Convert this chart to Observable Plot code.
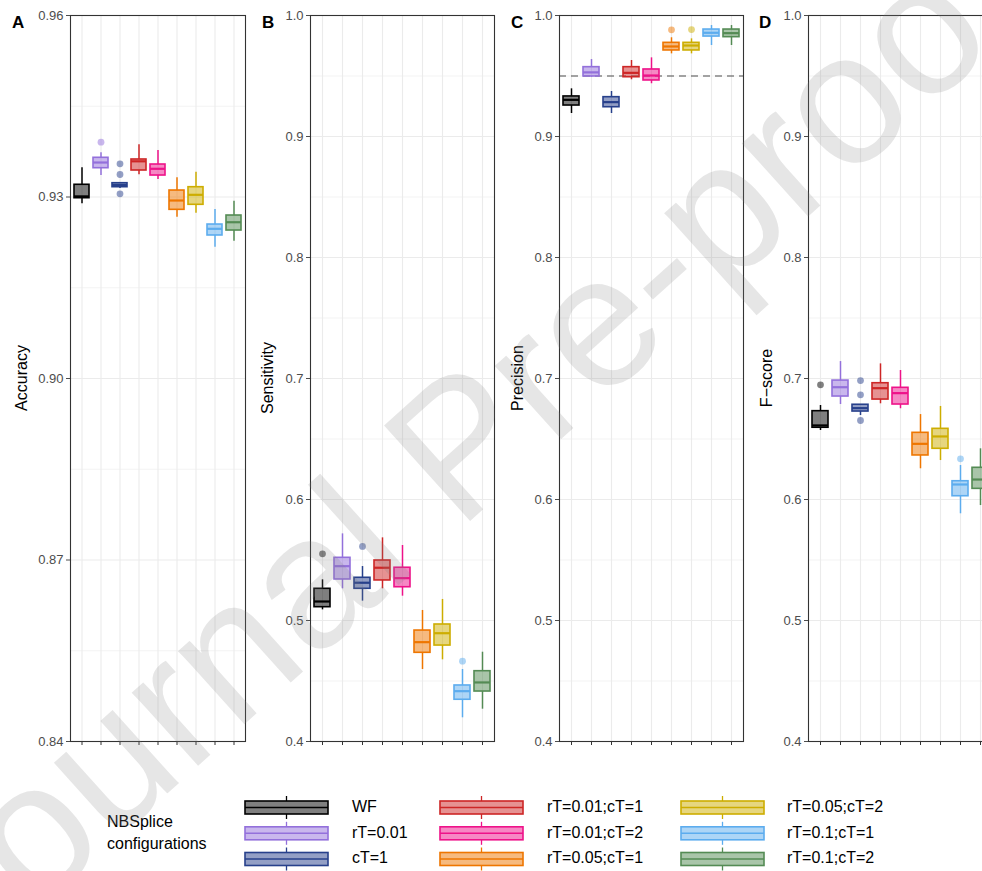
<!DOCTYPE html>
<html><head><meta charset="utf-8">
<script src="https://cdn.jsdelivr.net/npm/d3@7"></script>
<script src="https://cdn.jsdelivr.net/npm/@observablehq/plot@0.6"></script>
<style>
body{margin:0;background:#fff;overflow:hidden;}
#root{position:relative;width:982px;height:871px;overflow:hidden;font-family:"Liberation Sans",Arial,Helvetica,sans-serif;background:#fff;}
.panel{position:absolute;top:0;}
.ytitle{position:absolute;font-size:16px;color:#000;white-space:nowrap;transform:translate(-50%,-50%) rotate(-90deg);}
.letter{position:absolute;font-size:17px;font-weight:bold;color:#000;}
svg text{font-family:"Liberation Sans",Arial,Helvetica,sans-serif;}
</style></head><body><div id="root"></div>
<script>
// ---- categories & colours ----
const configs = ["WF","rT=0.01","cT=1","rT=0.01;cT=1","rT=0.01;cT=2","rT=0.05;cT=1","rT=0.05;cT=2","rT=0.1;cT=1","rT=0.1;cT=2"];
const colors  = ["#000000","#9370DB","#27408B","#CD2626","#EE1289","#EE7600","#CDAD00","#5CACEE","#548B54"];

// ---- Accuracy (panel A) ----
const accLo  = [0.92888,0.93355,0.93140,0.93367,0.93290,0.92666,0.92732,0.92171,0.92269];
const accQ1  = [0.92980,0.93476,0.93162,0.93438,0.93355,0.92788,0.92871,0.92364,0.92446];
const accMed = [0.93010,0.93570,0.93200,0.93590,0.93466,0.92942,0.93036,0.92474,0.92583];
const accQ3  = [0.93202,0.93648,0.93228,0.93620,0.93537,0.93107,0.93162,0.92545,0.92694];
const accHi  = [0.93483,0.93731,0.93240,0.93863,0.93769,0.93317,0.93410,0.92793,0.92931];
const accOut = [["rT=0.01",0.93906],["cT=1",0.93549],["cT=1",0.93372],["cT=1",0.93053]];
const accTicks = [0.84,0.87,0.90,0.93,0.96];
const accMinor = [0.855,0.885,0.915,0.945];

// ---- Sensitivity (panel B) ----
const senLo  = [0.5088,0.5262,0.5160,0.5262,0.5201,0.4595,0.4675,0.4196,0.4267];
const senQ1  = [0.5110,0.5339,0.5262,0.5331,0.5275,0.4733,0.4793,0.4345,0.4413];
const senMed = [0.5157,0.5449,0.5312,0.5436,0.5350,0.4821,0.4895,0.4416,0.4488];
const senQ3  = [0.5262,0.5518,0.5353,0.5496,0.5436,0.4917,0.4967,0.4463,0.4581];
const senHi  = [0.5336,0.5716,0.5446,0.5683,0.5620,0.5083,0.5174,0.4595,0.4738];
const senOut = [["WF",0.5551],["cT=1",0.5612],["rT=0.1;cT=1",0.4664]];

// ---- Precision (panel C) ----
const preLo  = [0.9190,0.9490,0.9190,0.9469,0.9436,0.9683,0.9683,0.9752,0.9752];
const preQ1  = [0.9256,0.9496,0.9242,0.9490,0.9463,0.9711,0.9711,0.9826,0.9821];
const preMed = [0.9303,0.9530,0.9284,0.9526,0.9504,0.9744,0.9752,0.9857,0.9854];
const preQ3  = [0.9331,0.9573,0.9325,0.9573,0.9554,0.9774,0.9774,0.9884,0.9884];
const preHi  = [0.9394,0.9636,0.9372,0.9628,0.9650,0.9816,0.9807,0.9917,0.9917];
const preOut = [["rT=0.05;cT=1",0.9882],["rT=0.05;cT=2",0.9884]];
const preRef = [0.95];

// ---- F-score (panel D) ----
const fscLo  = [0.6570,0.6785,0.6694,0.6791,0.6750,0.6254,0.6322,0.5882,0.5950];
const fscQ1  = [0.6593,0.6851,0.6727,0.6826,0.6785,0.6364,0.6419,0.6027,0.6088];
const fscMed = [0.6612,0.6928,0.6755,0.6920,0.6879,0.6460,0.6521,0.6124,0.6165];
const fscQ3  = [0.6730,0.6983,0.6783,0.6961,0.6923,0.6551,0.6584,0.6151,0.6262];
const fscHi  = [0.6777,0.7140,0.6783,0.7121,0.7066,0.6702,0.6769,0.6281,0.6419];
const fscOut = [["WF",0.6948],["cT=1",0.6983],["cT=1",0.6865],["cT=1",0.6653],["rT=0.1;cT=1",0.6336]];

const unitTicks = [0.4,0.5,0.6,0.7,0.8,0.9,1.0];
const unitMinor = [0.45,0.55,0.65,0.75,0.85,0.95];

const FONT = '"Liberation Sans",Arial,Helvetica,sans-serif';
const root = document.getElementById("root");

function panel(o) {
  const rows = configs.map((c,i)=>({c, lo:o.lo[i], q1:o.q1[i], med:o.med[i], q3:o.q3[i], hi:o.hi[i]}));
  const outs = o.out.map(([c,v])=>({c, v}));
  const ML = 70;
  const marks = [
    Plot.ruleY(o.minor, {stroke:"#EBEBEB", strokeWidth:0.6}),
    Plot.ruleY(o.ticks, {stroke:"#EBEBEB", strokeWidth:1.1}),
    Plot.gridX({stroke:"#EBEBEB", strokeOpacity:1, strokeWidth:1.1}),
  ];
  if (o.ref) marks.push(Plot.ruleY(o.ref, {stroke:"#4D4D4D", strokeWidth:1.1, strokeDasharray:"7,5"}));
  marks.push(
    Plot.ruleX(rows, {x:"c", y1:"lo", y2:"q1", stroke:"c", strokeWidth:1.5}),
    Plot.ruleX(rows, {x:"c", y1:"q3", y2:"hi", stroke:"c", strokeWidth:1.5}),
    Plot.barY(rows, {x:"c", y1:"q1", y2:"q3", fill:"c", fillOpacity:0.5, stroke:"c", strokeWidth:1.6}),
    Plot.tickY(rows, {x:"c", y:"med", stroke:"c", strokeWidth:2.2}),
    Plot.dot(outs, {x:"c", y:"v", fill:"c", fillOpacity:0.5, r:3.4}),
    Plot.axisY({ticks:o.ticks, tickFormat:o.fmt, tickSize:4, tickPadding:3, color:"#4D4D4D", label:null}),
    Plot.axisX({tickSize:4, tickFormat:()=>"", color:"#333", label:null}),
    Plot.frame({stroke:"#333", strokeWidth:1.1})
  );
  const p = Plot.plot({
    width: ML + o.w + 4, height: 760,
    marginLeft: ML, marginRight: 4, marginTop: 15, marginBottom: 19,
    style: {fontFamily: FONT, fontSize: "13px", background: "transparent", overflow: "visible"},
    x: {type:"band", domain: configs, paddingInner: 0.21, paddingOuter: 0.205, axis: null},
    y: {domain: o.domain, axis: null},
    color: {domain: configs, range: colors},
    marks
  });
  p.classList.add("panel");
  p.style.left = (o.left - ML) + "px";
  root.appendChild(p);
  const t = document.createElement("div");
  t.className = "ytitle"; t.textContent = o.title;
  t.style.left = o.titleX + "px"; t.style.top = "378px";
  root.appendChild(t);
  const l = document.createElement("div");
  l.className = "letter"; l.textContent = o.letter;
  l.style.left = o.letterX + "px"; l.style.top = "13px";
  root.appendChild(l);
}

panel({lo:accLo,q1:accQ1,med:accMed,q3:accQ3,hi:accHi,out:accOut,domain:[0.84,0.96],ticks:accTicks,minor:accMinor,fmt:d3.format(".2f"),left:70,w:175,title:"Accuracy",titleX:22,letter:"A",letterX:12});
panel({lo:senLo,q1:senQ1,med:senMed,q3:senQ3,hi:senHi,out:senOut,domain:[0.4,1.0],ticks:unitTicks,minor:unitMinor,fmt:d3.format(".1f"),left:310,w:184,title:"Sensitivity",titleX:268,letter:"B",letterX:262});
panel({lo:preLo,q1:preQ1,med:preMed,q3:preQ3,hi:preHi,out:preOut,ref:preRef,domain:[0.4,1.0],ticks:unitTicks,minor:unitMinor,fmt:d3.format(".1f"),left:559,w:184,title:"Precision",titleX:518,letter:"C",letterX:511});
panel({lo:fscLo,q1:fscQ1,med:fscMed,q3:fscQ3,hi:fscHi,out:fscOut,domain:[0.4,1.0],ticks:unitTicks,minor:unitMinor,fmt:d3.format(".1f"),left:808,w:184,title:"F\u2212score",titleX:767,letter:"D",letterX:759});

// ---- legend ----
const leg = d3.select(root).append("svg")
  .attr("width", 982).attr("height", 91)
  .style("position","absolute").style("left","0px").style("top","780px");
leg.append("text").attr("x",107).attr("y",43).attr("dominant-baseline","middle").attr("font-size",16).text("NBSplice");
leg.append("text").attr("x",107).attr("y",65).attr("dominant-baseline","middle").attr("font-size",16).text("configurations");
const keyX = [245, 440, 681], labX = [352, 547, 787], rowY = [27.5, 53.3, 79];
configs.forEach((c,i)=>{
  const col = Math.floor(i/3), row = i%3;
  const x = keyX[col], y = rowY[row], w = 83, h = 13, color = colors[i];
  const g = leg.append("g");
  g.append("line").attr("x1",x+w/2).attr("x2",x+w/2).attr("y1",y-h/2-5).attr("y2",y+h/2+5).attr("stroke",color).attr("stroke-width",1.3);
  g.append("rect").attr("x",x).attr("y",y-h/2).attr("width",w).attr("height",h)
    .attr("fill","#fff");
  g.append("rect").attr("x",x).attr("y",y-h/2).attr("width",w).attr("height",h)
    .attr("fill",color).attr("fill-opacity",0.5).attr("stroke",color).attr("stroke-width",1.6);
  g.append("line").attr("x1",x).attr("x2",x+w).attr("y1",y).attr("y2",y).attr("stroke",color).attr("stroke-width",1.6);
  leg.append("text").attr("x",labX[col]).attr("y",y).attr("dominant-baseline","middle").attr("font-size",16).text(c);
});

// ---- watermark ----
const wm = d3.select(root).append("svg")
  .attr("width",982).attr("height",871)
  .style("position","absolute").style("left","0px").style("top","0px").style("pointer-events","none");
wm.append("text")
  .attr("transform","translate(458,445) rotate(-42)")
  .attr("text-anchor","middle").attr("dominant-baseline","central")
  .attr("font-size",187).attr("fill","#808080").attr("fill-opacity",0.2)
  .text("Journal Pre-proof");
</script></body></html>
